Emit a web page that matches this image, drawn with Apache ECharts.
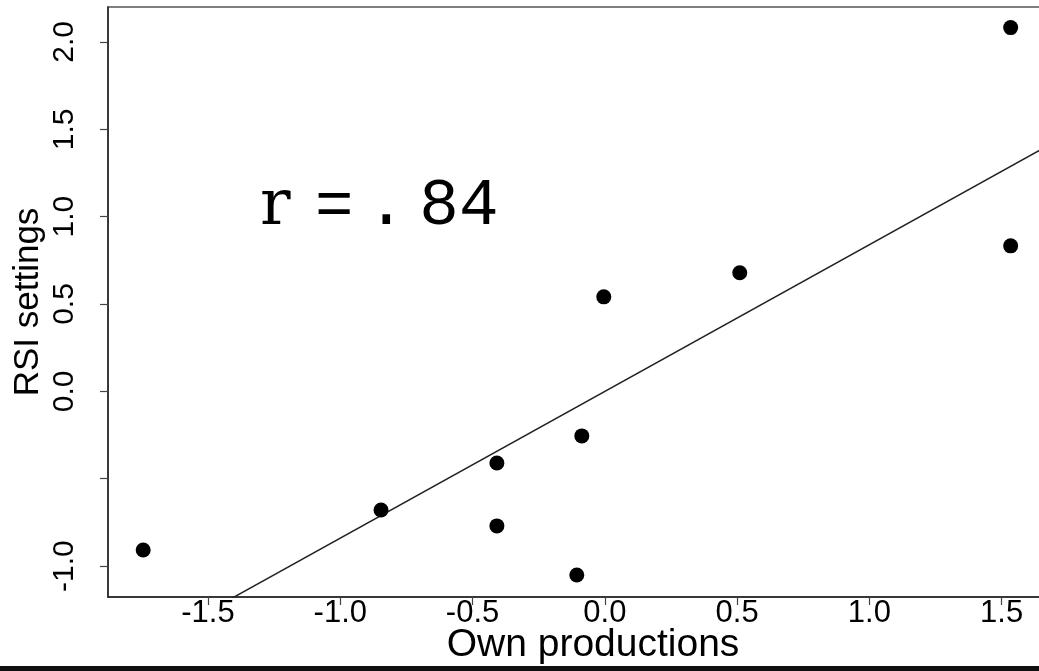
<!DOCTYPE html>
<html>
<head>
<meta charset="utf-8">
<title>RSI settings vs Own productions</title>
<script src="https://cdn.jsdelivr.net/npm/echarts@6/dist/echarts.min.js"></script>
<style>
  html, body { margin: 0; padding: 0; background: #ffffff; }
  #chart { width: 1039px; height: 671px; }
</style>
</head>
<body>
<div id="chart"></div>
<script>
// Standardised scores per item: own productions (x) vs RSI settings (y)
const ownProductions = [1.534, 1.534, 0.510, -0.004, -0.087, -0.408, -0.846, -0.408, -1.745, -0.106];
const rsiSettings    = [2.082, 0.833, 0.679, 0.541, -0.255, -0.410, -0.679, -0.770, -0.908, -1.051];

// Least-squares fit on standardised scores: slope equals r
const correlation = 0.84;
const fitIntercept = 0.0;

// Axis ranges and tick positions
const xRange = [-1.878, 1.66];
const yRange = [-1.177, 2.200];
const xTickValues = [-1.5, -1.0, -0.5, 0.0, 0.5, 1.0, 1.5];
const yTickValues = [-1.0, -0.5, 0.0, 0.5, 1.0, 1.5, 2.0];
const yLabelValues = [-1.0, 0.0, 0.5, 1.0, 1.5, 2.0];

const xAxisTitle = 'Own productions';
const yAxisTitle = 'RSI settings';

const points = ownProductions.map((x, i) => [x, rsiSettings[i]]);
const fitLine = xRange.map(x => [x, fitIntercept + correlation * x]);

const sans = '"Liberation Sans", Arial, Helvetica, sans-serif';
const mono = '"Liberation Mono", "Courier New", Courier, monospace';
const serif = '"DejaVu Serif", "Liberation Serif", serif';

const chart = echarts.init(document.getElementById('chart'), null, { renderer: 'canvas' });

chart.setOption({
  animation: false,
  backgroundColor: '#ffffff',
  grid: {
    left: 108, top: 7, width: 936, height: 590,
    outerBoundsMode: 'none',
    containLabel: false,
    show: true, borderColor: '#555555', borderWidth: 1.5,
    backgroundColor: 'transparent'
  },
  xAxis: {
    type: 'value',
    min: xRange[0], max: xRange[1],
    splitLine: { show: false },
    axisLine: { show: true, onZero: false, lineStyle: { color: '#222222', width: 1.5 } },
    axisTick: { show: true, length: 8, customValues: xTickValues, lineStyle: { color: '#444444', width: 1.2 } },
    axisLabel: {
      customValues: xTickValues, margin: 1,
      formatter: v => v.toFixed(1),
      color: '#000000', fontFamily: sans, fontSize: 31
    },
    name: xAxisTitle, nameLocation: 'middle', nameGap: 29,
    nameMoveOverlap: false,
    nameTextStyle: { color: '#000000', fontFamily: sans, fontSize: 39, padding: [0, 0, 0, 34] }
  },
  yAxis: {
    type: 'value',
    min: yRange[0], max: yRange[1],
    splitLine: { show: false },
    axisLine: { show: true, onZero: false, lineStyle: { color: '#222222', width: 1.5 } },
    axisTick: { show: true, length: 8, customValues: yTickValues, lineStyle: { color: '#444444', width: 1.2 } },
    axisLabel: {
      customValues: yLabelValues, margin: 28, rotate: 90,
      formatter: v => v.toFixed(1),
      color: '#000000', fontFamily: sans, fontSize: 30
    },
    name: yAxisTitle, nameLocation: 'middle', nameGap: 62, nameRotate: 90,
    nameMoveOverlap: false,
    nameTextStyle: { color: '#000000', fontFamily: sans, fontSize: 35 }
  },
  series: [
    {
      type: 'line',
      data: fitLine,
      clip: true,
      symbol: 'none',
      lineStyle: { color: '#222222', width: 1.5 },
      silent: true,
      z: 2
    },
    {
      type: 'scatter',
      data: points,
      symbol: 'circle',
      symbolSize: 15,
      itemStyle: { color: '#000000', opacity: 1 },
      z: 3
    }
  ],
  graphic: [
    {
      type: 'text',
      left: 260, top: 174,
      style: {
        text: '{r|r}{e|=}{d|.}{n|84}',
        rich: {
          r: { fontFamily: serif, fontSize: 64, width: 42, align: 'center', fill: '#000000' },
          e: { fontFamily: sans, fontSize: 64, width: 76, align: 'center', fill: '#000000' },
          d: { fontFamily: mono, fontSize: 66, width: 28, align: 'center', fill: '#000000' },
          n: { fontFamily: mono, fontSize: 66, padding: [0, 0, 0, 19], fill: '#000000' }
        }
      }
    },
    {
      type: 'rect',
      left: 0, top: 666,
      shape: { width: 1039, height: 5 },
      style: { fill: '#111111' }
    }
  ]
});
</script>
</body>
</html>
